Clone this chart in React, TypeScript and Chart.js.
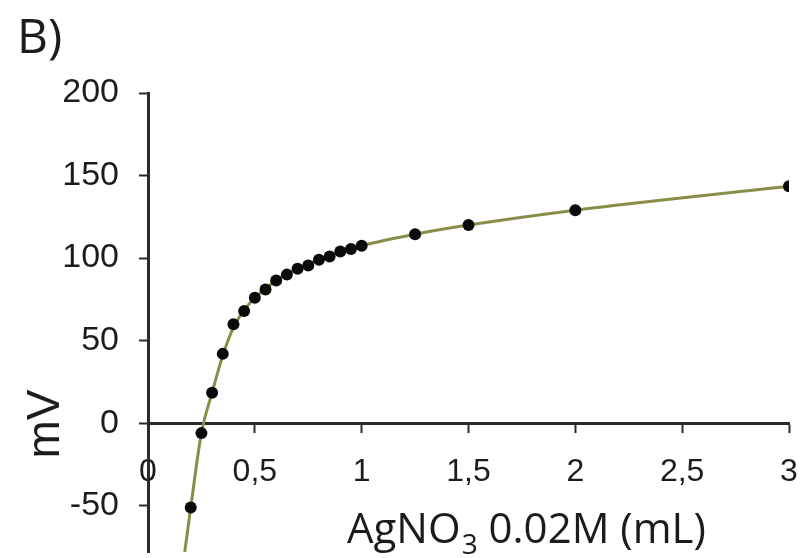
import React, { useEffect, useRef } from "react";
import { Chart, registerables } from "chart.js";

Chart.register(...registerables);

// Titration data
const volumeML = [0.2, 0.25, 0.3, 0.35, 0.4, 0.45, 0.5, 0.55, 0.6, 0.65, 0.7, 0.75, 0.8, 0.85, 0.9, 0.95, 1.0, 1.25, 1.5, 2.0, 3.0];
const potentialMV = [-51, -6, 18.5, 42, 60, 68, 76, 81, 86.5, 90, 93.5, 95.5, 99, 101, 104, 105.5, 107.5, 114.5, 120, 129, 143.5];

// Fitted curve (incl. the tail leaving the bottom edge)
const curveVolumeML = [0.172, 0.2, 0.25, 0.3, 0.35, 0.4, 0.45, 0.5, 0.55, 0.6, 0.65, 0.7, 0.75, 0.8, 0.85, 0.9, 0.95, 1.0, 1.25, 1.5, 2.0, 3.0];
const curvePotentialMV = [-78, -51, -6, 18.5, 41, 58, 68.5, 76, 81.5, 86.5, 90.5, 93.5, 96.5, 99, 101.5, 103.5, 105.5, 107.5, 114.5, 120, 129, 143.5];

const xTicks = [0, 0.5, 1, 1.5, 2, 2.5, 3];
const yTicks = [-50, 0, 50, 100, 150, 200];

const panelLabel = "B)";
const yTitle = "mV";
const xTitleMain = "AgNO";
const xTitleSub = "3";
const xTitleRest = " 0.02M (mL)";

const TEXT = "#1c1c1c";

const textPlugin = {
  id: "extraTexts",
  afterDraw(chart: any) {
    const ctx = chart.ctx as CanvasRenderingContext2D;
    ctx.save();
    ctx.fillStyle = TEXT;
    ctx.textBaseline = "alphabetic";
    // panel label
    ctx.textAlign = "left";
    ctx.font = '48px "Open Sans"';
    ctx.fillText(panelLabel, 17, 53);
    // x title with subscript
    let x = 347;
    const base = 543;
    ctx.font = '42px "Open Sans"';
    ctx.fillText(xTitleMain, x, base);
    x += ctx.measureText(xTitleMain).width;
    ctx.font = '28px "Open Sans"';
    ctx.fillText(xTitleSub, x + 1, base + 11);
    x += ctx.measureText(xTitleSub).width + 1;
    ctx.font = '42px "Open Sans"';
    ctx.fillText(xTitleRest, x, base);
    // y title rotated
    ctx.translate(59, 424);
    ctx.rotate(-Math.PI / 2);
    ctx.textAlign = "center";
    ctx.font = '46px "Liberation Sans"';
    ctx.fillText(yTitle, 0, 0);
    ctx.restore();
  },
};

export default function App() {
  const ref = useRef<HTMLCanvasElement | null>(null);

  useEffect(() => {
    document.body.style.margin = "0";
    const canvas = ref.current;
    if (!canvas) return;
    const chart = new Chart(canvas, {
      type: "scatter",
      data: {
        datasets: [
          {
            label: "measured",
            data: volumeML.map((v, i) => ({ x: v, y: potentialMV[i] })),
            showLine: false,
            pointRadius: 6,
            pointHoverRadius: 6,
            pointBackgroundColor: "#0a0a0a",
            pointBorderColor: "#0a0a0a",
            pointBorderWidth: 0,
            order: 0,
          },
          {
            label: "fit",
            data: curveVolumeML.map((v, i) => ({ x: v, y: curvePotentialMV[i] })),
            showLine: true,
            borderColor: "#8a8d4a",
            borderWidth: 3,
            pointRadius: 0,
            cubicInterpolationMode: "monotone",
            fill: false,
            order: 1,
          },
        ],
      },
      options: {
        animation: false,
        responsive: false,
        devicePixelRatio: 1,
        layout: { padding: { left: 0, right: 18, top: 93, bottom: 0 } },
        plugins: { legend: { display: false }, tooltip: { enabled: false }, title: { display: false } },
        scales: {
          x: {
            type: "linear",
            min: 0,
            max: 3,
            position: { y: 0 } as any,
            afterBuildTicks: (s: any) => {
              s.ticks = xTicks.map((v) => ({ value: v }));
            },
            afterFit: (s: any) => {
              s.paddingLeft = 0;
              s.paddingRight = 0;
            },
            grid: {
              display: true,
              drawOnChartArea: false,
              drawTicks: true,
              tickLength: 8,
              tickColor: "#2a2a2a",
              tickWidth: 2,
            },
            border: { display: true, color: "#2a2a2a", width: 3 },
            ticks: {
              color: TEXT,
              font: { family: '"Liberation Sans"', size: 32 },
              padding: 22,
              maxRotation: 0,
              autoSkip: false,
              callback: (v: any) => String(v).replace(".", ","),
            },
          },
          y: {
            type: "linear",
            position: "left",
            min: -78,
            max: 200,
            afterBuildTicks: (s: any) => {
              s.ticks = yTicks.map((v) => ({ value: v }));
            },
            afterFit: (s: any) => {
              s.width = 148;
              s.paddingTop = 0;
              s.paddingBottom = 0;
            },
            grid: {
              display: true,
              drawOnChartArea: false,
              drawTicks: true,
              tickLength: 9,
              tickColor: "#2a2a2a",
              tickWidth: 2,
            },
            border: { display: true, color: "#2a2a2a", width: 3 },
            ticks: {
              color: TEXT,
              font: { family: '"Liberation Sans"', size: 34 },
              padding: 20,
              autoSkip: false,
            },
          },
        },
      },
      plugins: [textPlugin],
    });
    return () => chart.destroy();
  }, []);

  return (
    <div style={{ position: "absolute", left: 0, top: 0, width: 807, height: 558, background: "#fff" }}>
      <canvas ref={ref} width={807} height={558} style={{ display: "block" }} />
    </div>
  );
}
